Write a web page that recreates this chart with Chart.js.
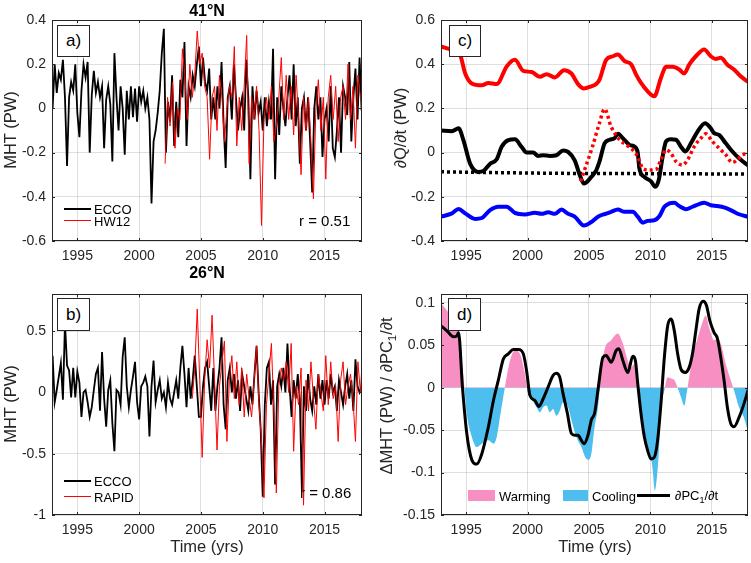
<!DOCTYPE html>
<html>
<head>
<meta charset="utf-8">
<script src="https://cdn.jsdelivr.net/npm/chart.js@4.4.0/dist/chart.umd.min.js"></script>
<style>
  html, body { margin: 0; padding: 0; background: #fff; }
  #fig { position: relative; width: 751px; height: 563px; overflow: hidden;
         font-family: "Liberation Sans", Arial, Helvetica, sans-serif; color: #262626; }
  #fig canvas { position: absolute; }
  .t { position: absolute; white-space: nowrap; line-height: 1; }
  .ttl { font-weight: bold; font-size: 16px; color: #000; transform: translate(-50%, -50%); }
  .ylab { font-size: 16.5px; transform: translate(-50%, -50%) rotate(-90deg); }
  .xlab { font-size: 16.5px; transform: translate(-50%, -50%); }
  .rv { font-size: 15px; transform: translateY(-50%); color: #000; }
  .lg { font-size: 13px; transform: translateY(-50%); color: #000; }
  .tag { position: absolute; box-sizing: border-box; border: 1px solid #262626; background: #fff;
         font-size: 17px; color: #000; display: flex; align-items: center; justify-content: center; }
  .sw { position: absolute; }
  sub { font-size: 70%; vertical-align: -0.35em; line-height: 0; }
</style>
</head>
<body>
<div id="fig">
  <canvas id="ca" width="375" height="280" style="left:0;top:0"></canvas>
  <canvas id="cb" width="375" height="283" style="left:0;top:280px"></canvas>
  <canvas id="cc" width="376" height="280" style="left:375px;top:0"></canvas>
  <canvas id="cd" width="376" height="283" style="left:375px;top:280px"></canvas>

  <div class="t ttl" style="left:207px;top:11px">41°N</div>
  <div class="t ttl" style="left:207px;top:273px">26°N</div>

  <div class="t ylab" style="left:10px;top:130px">MHT (PW)</div>
  <div class="t ylab" style="left:10px;top:404px">MHT (PW)</div>
  <div class="t ylab" style="left:400px;top:128px">∂Q/∂t (PW)</div>
  <div class="t ylab" style="left:386px;top:396px">ΔMHT (PW) / ∂PC<sub>1</sub>/∂t</div>

  <div class="t xlab" style="left:207px;top:546px">Time (yrs)</div>
  <div class="t xlab" style="left:595px;top:546px">Time (yrs)</div>

  <div class="tag" style="left:57px;top:25px;width:33px;height:32px">a)</div>
  <div class="tag" style="left:57px;top:298px;width:33px;height:33px">b)</div>
  <div class="tag" style="left:449px;top:25px;width:32px;height:32px">c)</div>
  <div class="tag" style="left:448px;top:298px;width:33px;height:33px">d)</div>

  <div class="t rv" style="left:299px;top:220px">r = 0.51</div>
  <div class="t rv" style="left:300px;top:492px">r = 0.86</div>

  <div class="sw" style="left:64px;top:208px;width:27px;height:2px;background:#000"></div>
  <div class="t lg" style="left:94px;top:209px">ECCO</div>
  <div class="sw" style="left:64px;top:220px;width:27px;height:1px;background:#ff0000"></div>
  <div class="t lg" style="left:94px;top:221px">HW12</div>

  <div class="sw" style="left:64px;top:480px;width:27px;height:2px;background:#000"></div>
  <div class="t lg" style="left:94px;top:481px">ECCO</div>
  <div class="sw" style="left:64px;top:496px;width:27px;height:1px;background:#ff0000"></div>
  <div class="t lg" style="left:94px;top:497px">RAPID</div>

  <div class="sw" style="left:468px;top:490px;width:27px;height:11px;background:#f78fc3"></div>
  <div class="t lg" style="left:499px;top:496px">Warming</div>
  <div class="sw" style="left:563px;top:490px;width:25px;height:11px;background:#4dbeee"></div>
  <div class="t lg" style="left:592px;top:496px">Cooling</div>
  <div class="sw" style="left:637px;top:494px;width:33px;height:3px;background:#000"></div>
  <div class="t lg" style="left:675px;top:495px">∂PC<sub>1</sub>/∂t</div>
</div>

<script>
// x ticks shared by all four panels
var yearTicks = [1995, 2000, 2005, 2010, 2015];

// ---- panel a (41N): ECCO every 2 months from 1993, HW12 every 0.2 yr from 2002.1
var aEccoStart = 1993, aEccoStep = 1 / 6;
var aEcco = [
  0.00, 0.20, 0.07, 0.16, 0.13, 0.22,
  0.05, -0.26, 0.05, 0.12, 0.08, 0.20,
  -0.02, -0.13, 0.08, 0.20, 0.14, 0.21,
  -0.20, 0.06, 0.17, 0.07, 0.12, 0.05,
  0.10, -0.18, 0.04, 0.10, 0.02, -0.24,
  0.25, 0.05, -0.10, 0.10, 0.00, -0.21,
  0.08, -0.05, 0.10, -0.04, 0.09, -0.06,
  0.10, 0.03, 0.08, 0.00, 0.05, -0.05,
  -0.43, -0.15, -0.10, -0.02, 0.08, 0.25,
  0.36, -0.20, 0.03, -0.06, 0.15, -0.17,
  0.03, -0.13, 0.13, 0.05, 0.30, -0.17,
  0.10, 0.05, 0.15, 0.10, 0.20, 0.28,
  0.10, 0.23, 0.12, 0.08, 0.18, -0.05,
  0.05, -0.05, 0.10, 0.00, 0.21, -0.07,
  -0.27, 0.05, 0.10, -0.05, 0.20, 0.05,
  -0.10, 0.00, 0.05, -0.10, 0.22, 0.05,
  -0.32, 0.10, -0.05, 0.08, -0.02, 0.03,
  -0.10, 0.05, -0.08, 0.03, -0.05, 0.27,
  -0.32, 0.05, -0.12, 0.10, 0.00, -0.08,
  0.05, 0.15, -0.05, 0.20, -0.08, 0.05,
  -0.25, 0.00, 0.05, -0.10, 0.05, -0.15,
  -0.38, 0.00, 0.10, -0.05, 0.05, -0.22,
  -0.05, 0.00, -0.15, 0.10, -0.18, -0.22,
  -0.10, 0.05, -0.20, 0.10, 0.05, -0.03,
  0.21, -0.15, 0.05, 0.18, -0.05, 0.23,
  -0.01
];
var aHwStart = 2002.1, aHwStep = 0.2;
var aHw12 = [
  -0.25, 0.05, -0.08, 0.12, -0.18,
  0.00, -0.05, 0.27, 0.15, -0.05,
  0.20, 0.05, 0.15, 0.35, 0.20,
  0.25, 0.10, 0.05, -0.23, 0.05,
  0.10, -0.10, 0.15, 0.05, -0.15,
  0.00, 0.10, 0.05, 0.28, -0.17,
  0.05, -0.10, 0.10, 0.33, -0.25,
  0.05, -0.05, 0.10, -0.10, -0.53,
  -0.05, 0.05, -0.05, 0.10, -0.15,
  -0.08, 0.05, 0.23, -0.05, 0.15,
  -0.05, 0.10, -0.12, 0.15, -0.05,
  -0.30, 0.05, -0.10, 0.05, -0.15,
  -0.41, 0.00, 0.13, -0.10, 0.05,
  -0.32, 0.05, 0.15, -0.05, 0.10,
  -0.15, 0.05, 0.10, -0.05, 0.20,
  -0.05, 0.10, -0.18, 0.15, 0.05
];
var aYTicks = [-0.6, -0.4, -0.2, 0, 0.2, 0.4];

// ---- panel b (26N): ECCO every 2 months from 1993, RAPID every 0.2 yr from 2004.3
var bEccoStart = 1993, bEccoStep = 1 / 6;
var bEcco = [
  0.30, -0.08, 0.02, 0.13, 0.24, -0.06,
  0.57, 0.22, 0.18, -0.04, 0.20, -0.04,
  0.17, 0.08, -0.20, 0.00, 0.02, -0.08,
  -0.20, -0.12, 0.02, 0.15, 0.20, -0.15,
  0.33, -0.05, -0.28, 0.02, 0.10, -0.25,
  -0.48, 0.02, 0.00, -0.10, 0.29, 0.45,
  0.05, -0.12, 0.02, 0.13, 0.25, -0.08,
  -0.22, 0.05, 0.08, 0.13, 0.05, -0.36,
  0.05, 0.26, -0.08, 0.02, 0.10, -0.05,
  0.00, -0.12, 0.08, -0.05, -0.10, 0.00,
  0.10, -0.05, 0.20, 0.38, 0.15, -0.12,
  0.20, -0.05, 0.10, 0.30, 0.05, -0.20,
  -0.20, 0.05, 0.20, 0.25, 0.05, -0.15,
  0.20, -0.15, 0.05, 0.20, 0.45, -0.10,
  -0.30, 0.10, 0.20, 0.00, 0.15, -0.05,
  0.10, -0.15, 0.15, 0.05, -0.05, -0.15,
  0.05, -0.10, 0.15, 0.38, 0.00, -0.30,
  -0.85, -0.10, 0.20, 0.25, -0.10, 0.10,
  -0.75, 0.05, 0.15, 0.05, 0.20, 0.00,
  0.40, 0.05, -0.20, 0.10, -0.05, 0.15,
  -0.05, -0.80, 0.05, -0.15, 0.15, -0.05,
  -0.15, 0.05, -0.10, 0.15, -0.05, 0.10,
  -0.10, 0.10, -0.05, 0.15, 0.00, 0.05,
  -0.15, 0.10, 0.00, -0.10, 0.05, 0.15,
  -0.05, 0.10, -0.15, 0.27, 0.05, 0.00,
  0.05
];
var bRapidStart = 2004.3, bRapidStep = 0.2;
var bRapid = [
  -0.05, 0.20, 0.68, 0.10,
  -0.53, 0.10, 0.43, 0.20, 0.63,
  0.10, -0.47, 0.05, 0.25, 0.42,
  -0.40, 0.10, 0.30, -0.05, 0.25,
  -0.10, 0.20, -0.20, 0.15, -0.05,
  -0.20, 0.10, 0.38, -0.10, -0.40,
  -0.86, -0.10, 0.15, 0.40, -0.15,
  -0.82, 0.05, 0.20, 0.10, 0.25,
  0.00, 0.40, -0.48, 0.05, -0.10,
  0.20, -0.92, 0.10, -0.15, 0.25,
  -0.05, -0.30, 0.15, 0.00, -0.15,
  0.30, -0.10, 0.25, -0.05, 0.05,
  -0.40, 0.10, 0.25, -0.10, 0.05,
  0.15, -0.05, -0.40, 0.25, 0.00,
  0.35
];
var bYTicks = [-1, -0.5, 0, 0.5];

// ---- panel c: dQ/dt terms (smoothed)
var cRedYears = [1992.95, 1993.84, 1994.51, 1994.92, 1995.46, 1996.27, 1996.81, 1997.49, 1998.3, 1998.97,
  1999.65, 2000.32, 2001.0, 2001.54, 2002.22, 2002.97, 2003.57, 2004.11, 2004.59, 2005.19, 2005.59,
  2005.86, 2006.4, 2006.95, 2007.35, 2007.9, 2008.43, 2008.84, 2009.24, 2009.78, 2010.32, 2010.86,
  2011.27, 2011.81, 2012.35, 2012.76, 2013.16, 2013.7, 2014.38, 2014.92, 2015.32, 2015.73, 2016.27,
  2016.81, 2017.35, 2017.95];
var cRed = [0.48, 0.464, 0.441, 0.358, 0.313, 0.305, 0.315, 0.31, 0.39, 0.42,
  0.37, 0.365, 0.343, 0.355, 0.34, 0.373, 0.358, 0.31, 0.29, 0.30, 0.31,
  0.33, 0.42, 0.436, 0.444, 0.414, 0.40, 0.353, 0.315, 0.277, 0.255, 0.338,
  0.388, 0.388, 0.376, 0.358, 0.398, 0.436, 0.467, 0.436, 0.424, 0.429, 0.398,
  0.376, 0.345, 0.32];

var cBlackYears = [1992.95, 1993.84, 1994.38, 1994.78, 1995.32, 1996.0, 1996.41, 1996.95, 1997.49, 1997.89,
  1998.43, 1998.97, 1999.51, 1999.92, 2000.46, 2000.86, 2001.27, 2001.81, 2002.35, 2002.89, 2003.3,
  2003.84, 2004.24, 2004.59, 2005.19, 2005.59, 2005.86, 2006.27, 2006.68, 2007.08, 2007.35, 2007.76,
  2008.3, 2008.7, 2008.97, 2009.1, 2009.51, 2010.05, 2010.4, 2010.68, 2011.0, 2011.27, 2011.68,
  2012.08, 2012.49, 2012.84, 2013.3, 2013.84, 2014.46, 2014.92, 2015.19, 2015.59, 2016.14, 2016.68,
  2017.22, 2017.95];
var cBlack = [0.10, 0.097, 0.11, 0.055, -0.05, -0.088, -0.083, -0.05, -0.03, 0.026,
  0.056, 0.06, 0.026, 0.0, 0.0, -0.015, -0.012, -0.015, -0.012, 0.01, 0.003,
  -0.035, -0.10, -0.14, -0.11, -0.08, -0.04, 0.042, 0.058, 0.065, 0.085, 0.065,
  0.035, 0.027, 0.0, -0.07, -0.11, -0.13, -0.155, -0.124, -0.018, 0.05, 0.06,
  0.058, 0.027, 0.005, 0.042, 0.095, 0.133, 0.11, 0.088, 0.08, 0.042, 0.005,
  -0.026, -0.058];

var cRedDotYears = [2004.32, 2005.3, 2005.86, 2006.27, 2006.8, 2007.49, 2008.03, 2008.57, 2008.97, 2009.38,
  2009.92, 2010.46, 2010.86, 2011.27, 2011.68, 2012.08, 2012.62, 2013.03, 2013.57, 2014.11, 2014.51,
  2015.05, 2015.59, 2016.14, 2016.68, 2017.08, 2017.49, 2017.95];
var cRedDot = [-0.13, 0.03, 0.135, 0.197, 0.118, 0.058, 0.035, 0.012, -0.018, -0.071,
  -0.079, -0.076, -0.033, 0.012, -0.003, -0.04, -0.056, -0.033, 0.027, 0.065, 0.085,
  0.05, 0.02, -0.01, -0.045, -0.033, -0.01, -0.006];

var cBlackDotYears = [1992.95, 1998, 2003, 2008, 2013, 2017.95];
var cBlackDot = [-0.087, -0.091, -0.094, -0.095, -0.096, -0.097];

var cBlueYears = [1992.95, 1993.84, 1994.38, 1994.92, 1995.73, 1996.27, 1996.95, 1997.62, 1998.3, 1998.97,
  1999.78, 2000.59, 2001.14, 2001.68, 2002.22, 2002.76, 2003.3, 2003.84, 2004.59, 2005.19, 2005.73,
  2006.4, 2006.81, 2007.35, 2007.9, 2008.57, 2008.97, 2009.38, 2009.78, 2010.32, 2010.73, 2011.14,
  2011.54, 2011.95, 2012.35, 2012.89, 2013.43, 2013.97, 2014.38, 2014.92, 2015.46, 2016.0, 2016.54,
  2017.22, 2017.95];
var cBlue = [-0.29, -0.275, -0.255, -0.275, -0.30, -0.296, -0.26, -0.245, -0.245, -0.273,
  -0.28, -0.272, -0.277, -0.27, -0.277, -0.258, -0.277, -0.29, -0.33, -0.314, -0.29,
  -0.276, -0.268, -0.258, -0.268, -0.268, -0.29, -0.317, -0.309, -0.306, -0.288, -0.245,
  -0.23, -0.227, -0.242, -0.256, -0.245, -0.233, -0.227, -0.238, -0.242, -0.248, -0.26,
  -0.279, -0.29];
var cYTicks = [-0.4, -0.2, 0, 0.2, 0.4, 0.6];

// ---- panel d: MHT anomaly (warming/cooling fill) and dPC1/dt
var dMhtYears = [1992.95, 1993.43, 1993.84, 1994.24, 1994.51, 1994.78, 1995.05, 1995.46, 1995.86, 1996.27,
  1996.81, 1997.22, 1997.49, 1997.76, 1998.16, 1998.57, 1998.97, 1999.38, 1999.73, 2000.05, 2000.32,
  2000.73, 2001.0, 2001.27, 2001.54, 2001.81, 2002.08, 2002.35, 2002.62, 2002.89, 2003.3, 2003.57,
  2003.97, 2004.38, 2004.7, 2004.92, 2005.19, 2005.46, 2005.73, 2006.0, 2006.27, 2006.81, 2007.35,
  2007.76, 2008.16, 2008.43, 2008.7, 2008.97, 2009.24, 2009.65, 2010.05, 2010.19, 2010.36, 2010.5,
  2010.68, 2010.86, 2011.14, 2011.41, 2011.68, 2011.95, 2012.22, 2012.49, 2012.76, 2012.95, 2013.16,
  2013.43, 2013.84, 2014.24, 2014.51, 2014.78, 2015.19, 2015.46, 2015.73, 2016.14, 2016.54, 2016.81,
  2017.22, 2017.62, 2017.95];
var dMht = [0.100, 0.091, 0.083, 0.071, 0.048, 0.0125, -0.031, -0.058, -0.070, -0.066,
  -0.062, -0.066, -0.058, -0.034, 0.001, 0.032, 0.044, 0.040, 0.020, -0.007, -0.013,
  -0.023, -0.029, -0.023, -0.021, -0.029, -0.025, -0.033, -0.027, -0.017, -0.023, -0.038,
  -0.058, -0.070, -0.082, -0.085, -0.078, -0.046, -0.023, 0.020, 0.045, 0.056, 0.064,
  0.052, 0.032, 0.024, 0.028, 0.009, -0.027, -0.062, -0.082, -0.097, -0.121, -0.11,
  -0.078, -0.027, -0.003, 0.0125, 0.011, 0.009, 0.000, -0.011, -0.021, -0.007, 0.0125,
  0.036, 0.058, 0.077, 0.085, 0.071, 0.056, 0.058, 0.052, 0.028, 0.009, -0.003,
  -0.023, -0.035, -0.052];

var dPcYears = [1992.95, 1993.43, 1993.97, 1994.24, 1994.38, 1994.70, 1995.05, 1995.46, 1995.86, 1996.27,
  1996.81, 1997.22, 1997.62, 1998.03, 1998.43, 1998.84, 1999.24, 1999.65, 1999.92, 2000.19, 2000.59,
  2000.92, 2001.27, 2001.68, 2002.08, 2002.35, 2002.62, 2002.89, 2003.24, 2003.57, 2003.84, 2004.11,
  2004.38, 2004.59, 2004.92, 2005.19, 2005.46, 2005.73, 2006.14, 2006.4, 2006.81, 2007.22, 2007.43,
  2007.76, 2008.16, 2008.57, 2008.78, 2008.97, 2009.24, 2009.51, 2009.78, 2010.05, 2010.32, 2010.59,
  2010.86, 2011.14, 2011.41, 2011.68, 2011.95, 2012.22, 2012.49, 2012.84, 2013.16, 2013.43, 2013.7,
  2013.97, 2014.3, 2014.57, 2014.84, 2015.19, 2015.46, 2015.73, 2016.0, 2016.27, 2016.54, 2016.81,
  2017.22, 2017.62, 2017.95];
var dPc = [0.073, 0.067, 0.06, 0.061, 0.065, 0.0, -0.054, -0.085, -0.09, -0.078,
  -0.046, -0.015, 0.009, 0.034, 0.04, 0.045, 0.045, 0.04, 0.02, -0.009, -0.015,
  -0.022, -0.013, 0.001, 0.0145, 0.017, 0.0125, -0.007, -0.03, -0.054, -0.056, -0.056,
  -0.062, -0.066, -0.056, -0.038, -0.03, -0.003, 0.036, 0.038, 0.03, 0.044, 0.046,
  0.032, 0.018, 0.037, 0.032, 0.005, -0.031, -0.058, -0.074, -0.084, -0.082, -0.062,
  -0.019, 0.036, 0.073, 0.081, 0.067, 0.04, 0.022, 0.018, 0.024, 0.04, 0.067,
  0.093, 0.102, 0.097, 0.079, 0.065, 0.058, 0.036, 0.009, -0.023, -0.042, -0.046,
  -0.035, -0.019, -0.003];
var dYTicks = [-0.15, -0.1, -0.05, 0, 0.05, 0.1];

var axisCol = '#262626';
var gridCol = 'rgba(38,38,38,0.15)';
var tickFont = { family: '"Liberation Sans", Arial, Helvetica, sans-serif', size: 14 };

function stepPoints(start, step, vals) {
  return vals.map(function (v, i) { return { x: start + i * step, y: v }; });
}
function pairPoints(xs, ys) {
  return ys.map(function (v, i) { return { x: xs[i], y: v }; });
}

// box around the axes with short inward ticks, like the original
var framePlugin = {
  id: 'frame',
  afterDraw: function (chart) {
    var a = chart.chartArea, ctx = chart.ctx;
    ctx.save();
    ctx.strokeStyle = axisCol;
    ctx.lineWidth = 1;
    ctx.strokeRect(Math.round(a.left) + 0.5, Math.round(a.top) + 0.5,
      Math.round(a.right - a.left) - 1, Math.round(a.bottom - a.top) - 1);
    ctx.beginPath();
    chart.scales.x.ticks.forEach(function (t) {
      var px = Math.round(chart.scales.x.getPixelForValue(t.value)) + 0.5;
      ctx.moveTo(px, a.bottom); ctx.lineTo(px, a.bottom - 3);
      ctx.moveTo(px, a.top); ctx.lineTo(px, a.top + 3);
    });
    chart.scales.y.ticks.forEach(function (t) {
      var py = Math.round(chart.scales.y.getPixelForValue(t.value)) + 0.5;
      ctx.moveTo(a.left, py); ctx.lineTo(a.left + 3, py);
      ctx.moveTo(a.right, py); ctx.lineTo(a.right - 3, py);
    });
    ctx.stroke();
    ctx.restore();
  }
};

function makeChart(id, o) {
  return new Chart(document.getElementById(id), {
    type: 'line',
    data: { datasets: o.datasets },
    options: {
      responsive: false,
      animation: false,
      events: [],
      layout: { padding: { left: 0, top: o.top, right: o.right, bottom: 0 } },
      elements: { point: { radius: 0 } },
      plugins: { legend: { display: false }, tooltip: { enabled: false } },
      scales: {
        x: {
          type: 'linear', min: o.xmin, max: o.xmax,
          afterBuildTicks: function (s) { s.ticks = yearTicks.map(function (v) { return { value: v }; }); },
          afterFit: function (s) { s.height = o.bottom; },
          grid: { color: gridCol, drawTicks: false },
          border: { display: false },
          ticks: { color: axisCol, font: tickFont, padding: 7, maxRotation: 0, autoSkip: false,
                   callback: function (v) { return String(v); } }
        },
        y: {
          type: 'linear', min: o.ymin, max: o.ymax,
          afterBuildTicks: function (s) { s.ticks = o.yTicks.map(function (v) { return { value: v }; }); },
          afterFit: function (s) { s.width = o.left; },
          grid: { color: gridCol, drawTicks: false },
          border: { display: false },
          ticks: { color: axisCol, font: tickFont, padding: 6, autoSkip: false,
                   callback: function (v) { return String(+v.toFixed(2)); } }
        }
      }
    },
    plugins: [framePlugin]
  });
}

makeChart('ca', {
  top: 20, right: 13, left: 52, bottom: 39,
  xmin: 1992.95, xmax: 2018.03, ymin: -0.6, ymax: 0.4, yTicks: aYTicks,
  datasets: [
    { data: stepPoints(aHwStart, aHwStep, aHw12), borderColor: '#ff0000', borderWidth: 1, tension: 0, order: 0 },
    { data: stepPoints(aEccoStart, aEccoStep, aEcco), borderColor: '#000000', borderWidth: 1.8, tension: 0, order: 1 }
  ]
});

makeChart('cb', {
  top: 14, right: 13, left: 52, bottom: 48,
  xmin: 1992.95, xmax: 2018.03, ymin: -1, ymax: 0.8, yTicks: bYTicks,
  datasets: [
    { data: stepPoints(bRapidStart, bRapidStep, bRapid), borderColor: '#ff0000', borderWidth: 1, tension: 0, order: 0 },
    { data: stepPoints(bEccoStart, bEccoStep, bEcco), borderColor: '#000000', borderWidth: 1.8, tension: 0, order: 1 }
  ]
});

makeChart('cc', {
  top: 20, right: 3, left: 66, bottom: 39,
  xmin: 1992.95, xmax: 2017.95, ymin: -0.4, ymax: 0.6, yTicks: cYTicks,
  datasets: [
    { data: pairPoints(cRedDotYears, cRedDot), borderColor: '#ff0000', borderWidth: 3.5, borderDash: [3, 3],
      cubicInterpolationMode: 'monotone', order: 0 },
    { data: pairPoints(cBlackYears, cBlack), borderColor: '#000000', borderWidth: 4,
      cubicInterpolationMode: 'monotone', order: 1 },
    { data: pairPoints(cBlackDotYears, cBlackDot), borderColor: '#000000', borderWidth: 3.5, borderDash: [3, 3],
      cubicInterpolationMode: 'monotone', order: 2 },
    { data: pairPoints(cRedYears, cRed), borderColor: '#ff0000', borderWidth: 4,
      cubicInterpolationMode: 'monotone', order: 3 },
    { data: pairPoints(cBlueYears, cBlue), borderColor: '#0000ff', borderWidth: 4,
      cubicInterpolationMode: 'monotone', order: 4 }
  ]
});

makeChart('cd', {
  top: 14, right: 3, left: 66, bottom: 48,
  xmin: 1992.95, xmax: 2017.95, ymin: -0.15, ymax: 0.11, yTicks: dYTicks,
  datasets: [
    { data: pairPoints(dPcYears, dPc), borderColor: '#000000', borderWidth: 3,
      cubicInterpolationMode: 'monotone', order: 0 },
    { data: pairPoints(dMhtYears, dMht), borderColor: 'rgba(0,0,0,0)', borderWidth: 0,
      backgroundColor: '#f78fc3',
      fill: { target: { value: 0 }, above: '#f78fc3', below: '#4dbeee' },
      cubicInterpolationMode: 'monotone', order: 1 }
  ]
});
</script>
</body>
</html>
